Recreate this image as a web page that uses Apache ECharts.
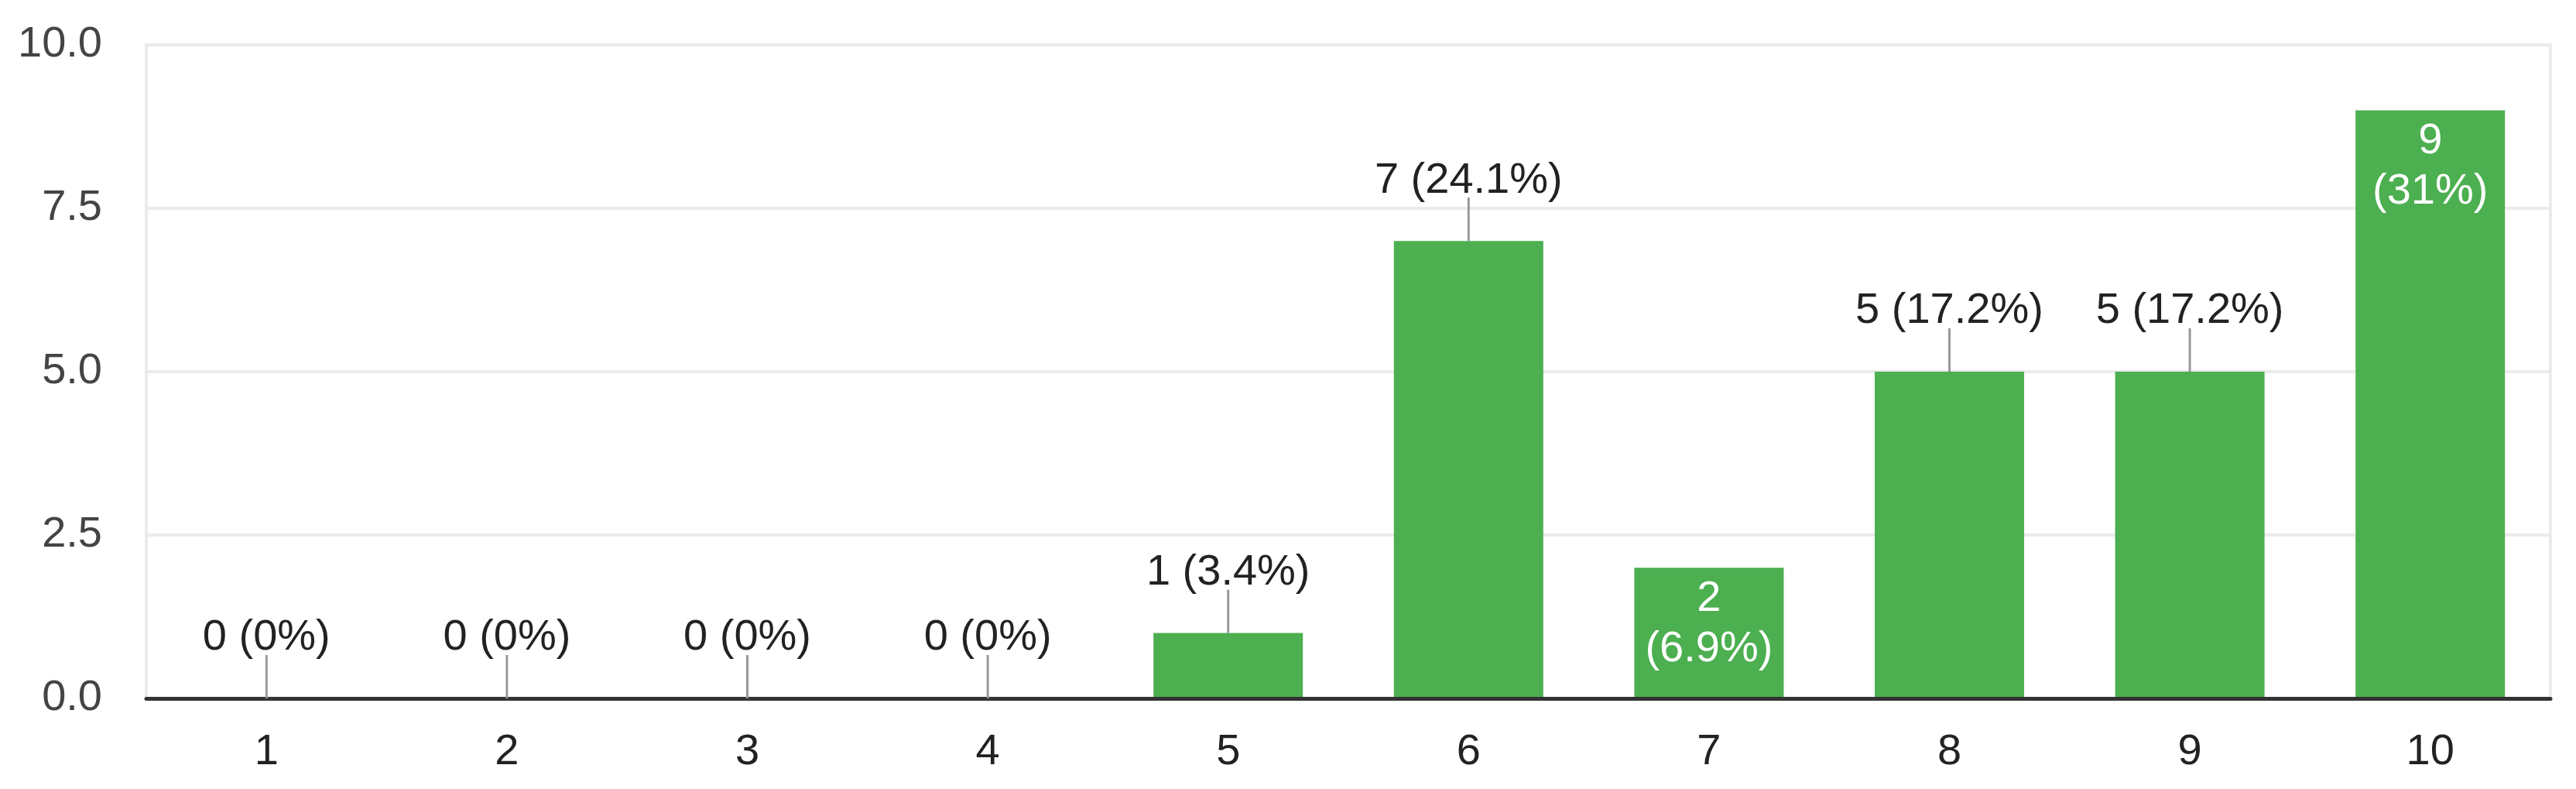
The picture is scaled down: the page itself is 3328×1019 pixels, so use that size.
<!DOCTYPE html>
<html>
<head>
<meta charset="utf-8">
<script src="https://cdn.jsdelivr.net/npm/echarts@6/dist/echarts.min.js"></script>
<style>
html,body{margin:0;padding:0;background:#fff;}
#chart{width:3328px;height:1019px;}
</style>
</head>
<body>
<div id="chart"></div>
<script>
const categories = ['1','2','3','4','5','6','7','8','9','10'];
const counts = [0, 0, 0, 0, 1, 7, 2, 5, 5, 9];
const yTicks = [0, 2.5, 5, 7.5, 10];
const insideLabelCategories = ['7','10'];

const total = counts.reduce((a, b) => a + b, 0);
const pct = v => Number((v / total * 100).toFixed(1)) + '%';

const FONT = 'Arial, "Liberation Sans", sans-serif';
const FS = 56;

const chart = echarts.init(document.getElementById('chart'), null, {renderer: 'canvas'});

const outsideData = counts.map((v, i) => insideLabelCategories.includes(categories[i]) ? null : [i, v]);

chart.setOption({
  animation: false,
  grid: {left: 189, right: 33, top: 58, bottom: 117, show: true, borderColor: '#ebebeb', borderWidth: 4, backgroundColor: 'transparent'},
  xAxis: {
    type: 'category',
    data: categories,
    axisLine: {show: true, lineStyle: {color: '#333', width: 5}},
    axisTick: {show: false},
    axisLabel: {color: '#222', fontSize: FS, fontFamily: FONT, margin: 42},
    splitLine: {show: false},
    z: 5
  },
  yAxis: {
    type: 'value',
    min: yTicks[0],
    max: yTicks[yTicks.length - 1],
    interval: yTicks[1] - yTicks[0],
    axisLine: {show: false},
    axisTick: {show: false},
    axisLabel: {color: '#444', fontSize: FS, fontFamily: FONT, margin: 57, formatter: v => v.toFixed(1)},
    splitLine: {show: true, lineStyle: {color: '#ebebeb', width: 4}}
  },
  series: [
    {
      type: 'bar',
      data: counts,
      barWidth: 193,
      itemStyle: {color: '#4caf50'},
      z: 3,
      label: {
        show: true,
        position: 'insideTop',
        distance: 8,
        color: '#fff',
        fontSize: FS,
        fontFamily: FONT,
        lineHeight: 65,
        formatter: p => insideLabelCategories.includes(categories[p.dataIndex]) ? (p.value + '\n(' + pct(p.value) + ')') : ''
      }
    },
    {
      type: 'custom',
      data: outsideData.filter(d => d),
      z: 6,
      renderItem: (params, api) => {
        const idx = api.value(0);
        const v = api.value(1);
        const p = api.coord([idx, v]);
        const top = p[1] - 56;
        return {
          type: 'group',
          children: [
            {type: 'line', shape: {x1: p[0], y1: p[1], x2: p[0], y2: top}, style: {stroke: '#999', lineWidth: 3}},
            {type: 'text', style: {x: p[0], y: top + 6, text: v + ' (' + pct(v) + ')', align: 'center', verticalAlign: 'bottom', fill: '#222', fontSize: FS, fontFamily: FONT}}
          ]
        };
      }
    }
  ]
});
</script>
</body>
</html>
